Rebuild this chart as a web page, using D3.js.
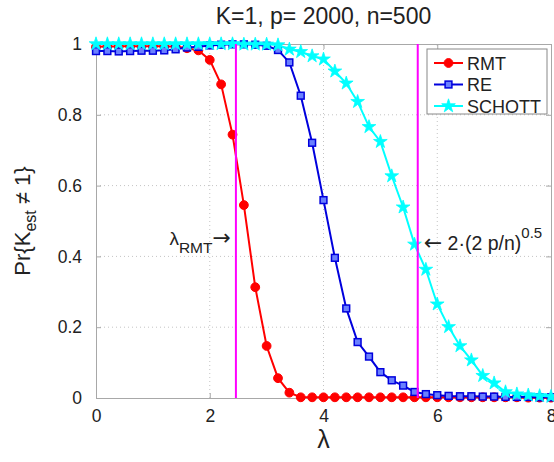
<!DOCTYPE html>
<html>
<head>
<meta charset="utf-8">
<script src="https://cdn.jsdelivr.net/npm/d3@7"></script>
<style>
 body { margin: 0; background: #fff; }
 svg { font-family: "Liberation Sans", Arial, sans-serif; }
</style>
</head>
<body>
<svg id="chart"></svg>
<script>
// lambda values (x axis)
const lambdas = [0, 0.2, 0.4, 0.6, 0.8, 1.0, 1.2, 1.4, 1.6, 1.8, 2.0, 2.2, 2.4, 2.6, 2.8, 3.0, 3.2, 3.4, 3.6, 3.8,
 4.0, 4.2, 4.4, 4.6, 4.8, 5.0, 5.2, 5.4, 5.6, 5.8, 6.0, 6.2, 6.4, 6.6, 6.8, 7.0, 7.2, 7.4, 7.6, 7.8, 8.0];

const rmt = [0.992, 0.993, 0.993, 0.994, 0.993, 0.994, 0.993, 0.993, 0.988, 0.982, 0.955, 0.886, 0.744, 0.545, 0.313, 0.147, 0.056, 0.015, 0.002, 0.002,
 0.002, 0.002, 0.002, 0.002, 0.002, 0.002, 0.002, 0.002, 0.002, 0.002, 0.002, 0.002, 0.002, 0.002, 0.002, 0.002, 0.002, 0.002, 0.001, 0.001, 0.001];

const re = [0.980, 0.980, 0.979, 0.980, 0.981, 0.981, 0.982, 0.985, 0.990, 0.992, 0.996, 0.998, 0.999, 0.999, 0.998, 0.995, 0.983, 0.948, 0.854, 0.721,
 0.559, 0.396, 0.253, 0.158, 0.117, 0.073, 0.050, 0.035, 0.017, 0.011, 0.008, 0.006, 0.005, 0.005, 0.004, 0.004, 0.003, 0.003, 0.003, 0.002, 0.002];

const schott = [1.0, 1.0, 1.0, 1.0, 1.0, 1.0, 1.0, 1.0, 1.0, 1.0, 1.0, 1.0, 1.0, 0.999, 0.999, 0.999, 0.997, 0.985, 0.978, 0.966,
 0.957, 0.923, 0.889, 0.837, 0.766, 0.724, 0.627, 0.539, 0.434, 0.363, 0.265, 0.201, 0.147, 0.107, 0.063, 0.042, 0.017, 0.011, 0.008, 0.006, 0.004];

const xTicks = [0, 2, 4, 6, 8];
const yTicks = [0, 0.2, 0.4, 0.6, 0.8, 1];
const thresholds = [2.46, 5.657]; // lambda_RMT, 2*(2p/n)^0.5

const width = 554, height = 462;
const margin = { top: 44, right: 3, bottom: 64, left: 96 };

const svg = d3.select("#chart").attr("width", width).attr("height", height);

const x = d3.scaleLinear().domain([0, 8]).range([margin.left, width - margin.right]);
const y = d3.scaleLinear().domain([0, 1]).range([height - margin.bottom, margin.top]);

const axisColor = "#a8a8a8";

// grid
svg.append("g")
 .selectAll("line.gx")
 .data(xTicks.slice(1, -1))
 .enter().append("line")
 .attr("x1", d => x(d)).attr("x2", d => x(d))
 .attr("y1", y(0)).attr("y2", y(1))
 .attr("stroke", "#c4c4c4").attr("stroke-dasharray", "1,3");
svg.append("g")
 .selectAll("line.gy")
 .data(yTicks.slice(1, -1))
 .enter().append("line")
 .attr("x1", x(0)).attr("x2", x(8))
 .attr("y1", d => y(d)).attr("y2", d => y(d))
 .attr("stroke", "#c4c4c4").attr("stroke-dasharray", "1,3");

// axes
svg.append("g")
 .attr("transform", `translate(0,${y(0)})`)
 .call(d3.axisBottom(x).tickValues(xTicks).tickSize(-5).tickPadding(12).tickFormat(d3.format("d")));
svg.append("g")
 .attr("transform", `translate(${x(0)},0)`)
 .call(d3.axisLeft(y).tickValues(yTicks).tickSize(-5).tickPadding(14).tickFormat(d => d === 0 || d === 1 ? d : d3.format(".1f")(d)));
svg.append("g")
 .attr("transform", `translate(0,${y(1)})`)
 .call(d3.axisTop(x).tickValues(xTicks).tickSize(-5).tickFormat(""));
svg.append("g")
 .attr("transform", `translate(${x(8)},0)`)
 .call(d3.axisRight(y).tickValues(yTicks).tickSize(-5).tickFormat(""));

svg.selectAll(".domain").attr("stroke", axisColor);
svg.selectAll(".tick line").attr("stroke", axisColor);
svg.selectAll(".tick text").attr("fill", "#222").style("font-size", "17.5px").style("font-family", "Liberation Sans, Arial, sans-serif");

// series
const series = [
 { name: "RMT", values: rmt, color: "#ff0000", marker: "circle" },
 { name: "RE", values: re, color: "#0000dd", marker: "square" },
 { name: "SCHOTT", values: schott, color: "#00ffff", marker: "star" }
];

const line = d3.line().x(d => x(d[0])).y(d => y(d[1]));

function drawMarker(g, type, color) {
 if (type === "circle") {
 g.append("circle").attr("r", 4.4).attr("fill", color).attr("stroke", color);
 } else if (type === "square") {
 g.append("rect").attr("x", -3.4).attr("y", -3.4).attr("width", 6.8).attr("height", 6.8)
 .attr("fill", "#6a80ff").attr("stroke", color).attr("stroke-width", 1.5);
 } else {
 g.append("path").attr("d", d3.symbol().type(d3.symbolStar).size(58)()).attr("fill", color).attr("stroke", color).attr("stroke-width", 0.8);
 }
}

series.forEach(s => {
 const pts = lambdas.map((l, i) => [l, s.values[i]]);
 const g = svg.append("g");
 g.append("path").datum(pts).attr("d", line)
 .attr("fill", "none").attr("stroke", s.color).attr("stroke-width", 2);
 g.selectAll("g.m").data(pts).enter().append("g")
 .attr("transform", d => `translate(${x(d[0])},${y(d[1])})`)
 .each(function () { drawMarker(d3.select(this), s.marker, s.color); });
});

// threshold lines
svg.selectAll("line.thr").data(thresholds).enter().append("line")
 .attr("x1", d => x(d)).attr("x2", d => x(d))
 .attr("y1", y(0)).attr("y2", y(1))
 .attr("stroke", "#ff00ff").attr("stroke-width", 2);

// annotations
const arrowFont = "DejaVu Sans, sans-serif";
const a1 = svg.append("text").attr("x", x(thresholds[0]) - 5).attr("y", 245)
 .attr("text-anchor", "end").attr("fill", "#222").style("font-size", "19px");
a1.append("tspan").text("λ");
a1.append("tspan").attr("dy", 8).style("font-size", "15.5px").text("RMT");
a1.append("tspan").attr("dy", -8).style("font-family", arrowFont).style("font-size", "22px").text("→");

const a2 = svg.append("text").attr("x", x(thresholds[1]) + 6).attr("y", 250)
 .attr("fill", "#222").style("font-size", "19.5px");
a2.append("tspan").style("font-family", arrowFont).style("font-size", "22px").text("←");
a2.append("tspan").text(" 2·(2 p/n)");
a2.append("tspan").attr("dy", -12).style("font-size", "15px").text("0.5");

// title and axis labels
svg.append("text").attr("x", (x(0) + x(8)) / 2).attr("y", 24)
 .attr("text-anchor", "middle").attr("fill", "#222").style("font-size", "23px")
 .text("K=1, p= 2000, n=500");

svg.append("text").attr("x", (x(0) + x(8)) / 2).attr("y", 448)
 .attr("text-anchor", "middle").attr("fill", "#222").style("font-size", "25px")
 .text("λ");

const yl = svg.append("text")
 .attr("transform", `translate(30,${(y(0) + y(1)) / 2}) rotate(-90)`)
 .attr("text-anchor", "middle").attr("fill", "#222").style("font-size", "22px");
yl.append("tspan").text("Pr{K");
yl.append("tspan").attr("dy", 6).style("font-size", "16px").text("est");
yl.append("tspan").attr("dy", -6).text(" ≠ 1}");

// legend
const legend = svg.append("g").attr("transform", "translate(427,49)");
legend.append("rect").attr("width", 120).attr("height", 65)
 .attr("fill", "#fff").attr("stroke", "#888").attr("stroke-width", 1);
series.forEach((s, i) => {
 const gy = 14 + i * 21.5;
 legend.append("line").attr("x1", 7).attr("x2", 36).attr("y1", gy).attr("y2", gy)
 .attr("stroke", s.color).attr("stroke-width", 2);
 const m = legend.append("g").attr("transform", `translate(21.5,${gy})`);
 drawMarker(m, s.marker, s.color);
 legend.append("text").attr("x", 40).attr("y", gy + 6.5).attr("fill", "#222")
 .style("font-size", "18px").text(s.name);
});
</script>
</body>
</html>
